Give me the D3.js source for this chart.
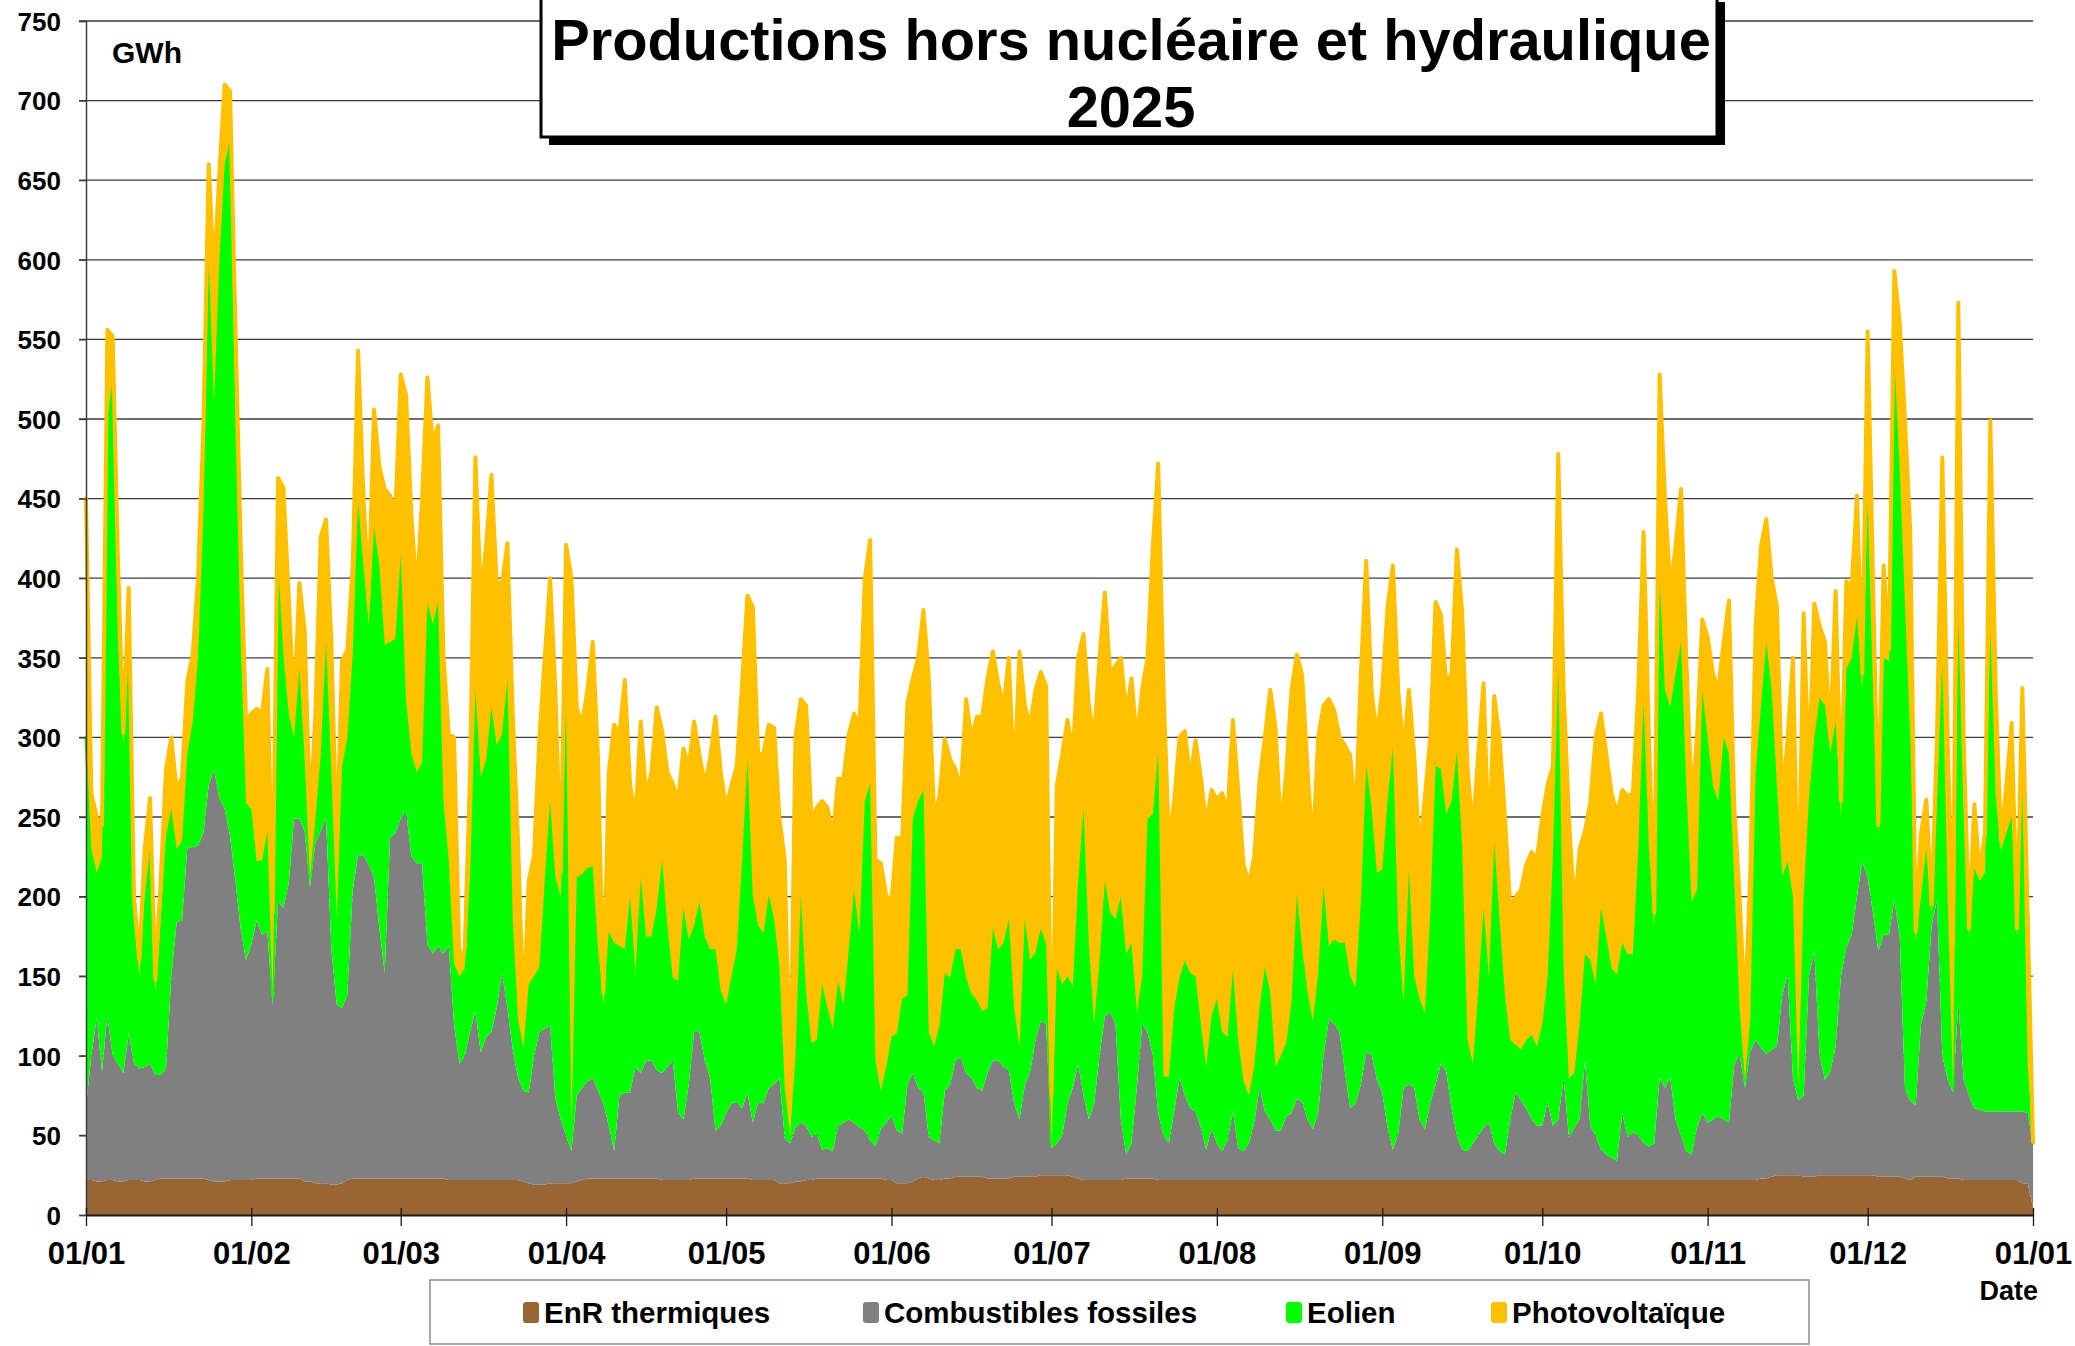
<!DOCTYPE html>
<html><head><meta charset="utf-8">
<script src="https://cdn.jsdelivr.net/npm/d3@7"></script>
<style>
body{margin:0;background:#fff}
svg text{font-family:"Liberation Sans",Arial,Helvetica,sans-serif;font-weight:bold;fill:#000}
</style>
</head><body>
<svg id="c" width="2075" height="1346"></svg>
<script>
// ---- tick labels ----
const monthTickDays = [0,31,59,90,120,151,181,212,243,273,304,334,365];
const monthTickLabels = ["01/01","01/02","01/03","01/04","01/05","01/06","01/07","01/08","01/09","01/10","01/11","01/12","01/01"];
const yTickValues = [0,50,100,150,200,250,300,350,400,450,500,550,600,650,700,750];
const seriesKeys = ["enr","fossiles","eolien","pv"];
const seriesNames = ["EnR thermiques","Combustibles fossiles","Eolien","Photovoltaïque"];
const seriesColors = ["#996633","#808080","#00ff00","#ffc000"];

// ---- daily values (GWh), 1 Jan 2025 .. 1 Jan 2026 ----
const enr = [
22,22,21,21,22,22,21,21,22,22,22,21,21,22,23,23,23,23,23,23,23,23,23,22,21,21,21,22,22,22,22,
22,23,23,23,23,23,23,23,23,23,21,21,20,20,20,19,19,20,22,23,23,23,23,23,23,23,23,23,
23,23,23,23,23,23,23,23,23,22,22,22,22,22,22,22,22,22,22,22,22,22,22,21,20,19,19,19,20,20,20,
20,20,21,22,23,23,23,23,23,23,23,23,23,23,23,23,23,23,22,22,22,22,22,22,23,23,23,23,23,23,
23,23,23,23,23,22,22,22,22,22,20,20,20,21,21,22,22,23,23,23,23,23,23,23,23,23,23,23,23,23,22,
22,20,20,20,21,23,24,23,22,22,23,23,24,24,24,24,24,24,23,23,23,23,23,24,24,24,24,24,25,25,
25,25,25,25,24,23,22,22,22,22,22,22,22,22,23,23,23,23,23,23,22,22,22,22,22,22,22,22,22,22,22,
22,22,22,22,22,22,22,22,22,22,22,22,22,22,22,22,22,22,22,22,22,22,22,22,22,22,22,22,22,22,22,
22,22,22,22,22,22,22,22,22,22,22,22,22,22,22,22,22,22,22,22,22,22,22,22,22,22,22,22,22,22,
22,22,22,22,22,22,22,22,22,22,22,22,22,22,22,22,22,22,22,22,22,22,22,22,22,22,22,22,22,22,22,
22,22,22,22,22,22,22,22,22,22,23,23,24,25,25,25,25,25,24,24,24,25,25,25,25,25,25,25,25,25,
25,25,24,24,24,24,24,23,22,24,24,24,24,24,24,23,23,23,22,22,22,22,22,22,22,22,22,22,22,20,20,
5];

const fossiles = [
46,78,103,69,103,78,74,68,92,73,70,72,74,66,65,69,127,161,162,208,208,209,217,248,259,241,234,216,188,158,138,
148,162,153,155,109,174,170,185,226,226,220,185,214,221,229,148,113,110,116,181,203,203,197,189,157,129,214,217,
226,231,202,198,198,147,141,146,141,147,98,73,78,93,106,80,90,93,108,130,108,82,64,57,57,81,96,98,99,53,40,
30,20,54,58,61,63,55,47,33,17,52,54,54,70,66,74,74,68,67,71,75,42,38,60,92,92,74,63,30,33,
41,47,48,44,54,36,49,48,58,60,66,28,25,34,37,34,27,28,18,19,17,33,35,37,35,32,30,24,20,31,36,
40,33,31,62,68,57,53,26,25,23,55,59,73,75,65,62,56,54,66,74,74,70,68,46,36,58,66,86,97,95,
17,20,25,45,56,72,53,38,48,78,103,105,98,38,15,22,57,97,92,77,42,28,23,43,64,53,45,43,33,19,32,
23,18,25,43,20,18,23,36,58,43,38,31,31,40,42,51,49,38,32,42,78,101,98,93,68,45,48,60,80,79,63,
55,33,19,29,58,60,58,38,32,48,60,73,68,45,28,19,18,23,28,33,36,23,18,16,38,55,50,45,38,34,
34,49,34,38,64,27,33,38,75,34,28,19,16,14,12,42,27,30,28,23,21,23,64,58,64,38,28,18,16,33,42,
36,38,40,38,36,73,79,58,81,88,82,78,80,81,113,126,61,47,51,126,142,75,60,65,81,125,143,151,175,197,
187,165,142,152,152,174,152,56,50,45,96,110,158,174,76,62,54,111,63,53,45,44,43,43,43,43,43,43,43,45,44,
40];

const eolien = [
232,130,91,135,375,425,265,206,236,90,58,107,135,52,97,146,105,46,50,59,79,118,200,330,230,338,405,437,290,180,99,
85,37,47,63,5,213,159,107,51,94,45,6,15,48,111,111,54,152,162,148,222,182,150,220,228,206,123,122,
166,69,65,57,63,215,207,216,96,54,38,55,55,97,202,173,174,204,165,150,207,82,37,27,68,50,41,93,141,139,140,
270,15,137,134,134,133,89,62,122,131,94,90,123,59,123,78,78,102,134,89,52,83,133,91,67,82,78,81,114,85,
68,80,96,156,209,143,111,107,121,104,70,32,5,45,143,83,59,59,104,88,77,91,74,107,146,121,207,224,54,24,35,
50,61,85,56,160,180,190,66,59,74,74,67,70,68,60,53,55,50,41,83,70,78,95,60,46,104,70,55,58,50,
3,110,95,80,64,115,181,110,50,60,85,63,66,140,126,126,47,30,134,152,226,37,42,65,63,85,85,85,65,52,71,
91,75,65,89,68,44,30,35,50,91,80,40,47,46,70,129,96,80,68,88,106,46,53,56,81,83,73,115,180,155,130,
140,205,253,129,53,135,70,76,73,119,200,185,162,193,241,189,70,50,91,138,91,189,146,100,50,30,32,43,53,50,
64,78,170,285,69,37,34,60,67,104,95,152,137,119,117,107,115,112,180,278,187,135,314,250,233,280,310,230,159,149,266,
242,210,198,240,232,115,29,5,20,168,215,259,226,164,75,71,114,8,125,112,134,225,235,200,204,100,175,174,176,108,
236,140,73,174,172,339,294,305,228,103,80,96,8,62,248,115,3,241,165,99,151,144,150,303,198,164,175,185,109,202,30,
0];

const pv = [
150,35,35,20,56,27,50,8,44,15,10,30,32,8,25,42,45,36,40,45,42,50,55,60,80,55,50,31,60,60,51,
60,96,92,102,53,53,105,74,18,54,81,37,66,137,77,82,44,66,55,56,95,44,20,74,62,98,92,79,
113,192,150,111,166,141,114,111,92,79,142,10,12,66,146,114,134,146,102,95,85,129,111,22,65,76,144,140,140,118,15,
101,345,107,94,112,141,119,8,100,137,133,169,70,97,98,88,103,126,81,96,122,113,100,109,128,92,96,120,146,137,
124,120,115,111,103,181,107,113,107,120,93,143,25,200,123,181,141,146,115,126,120,127,142,135,111,130,140,153,126,143,108,
85,123,100,184,88,90,113,222,144,144,147,137,113,100,175,160,178,185,207,174,167,148,164,141,248,134,148,165,161,162,
30,115,144,161,146,140,109,150,180,190,181,150,159,150,151,166,171,180,101,168,182,243,148,130,151,144,122,148,155,152,142,
125,150,140,157,157,136,133,132,143,144,190,213,141,170,196,150,172,140,108,148,114,155,144,129,124,139,106,143,129,74,85,
113,122,114,150,158,113,139,90,136,111,103,97,82,80,127,148,170,146,149,141,81,92,114,112,83,93,100,110,115,118,
130,121,56,133,175,164,102,110,77,99,155,122,115,110,101,96,99,101,100,106,70,10,128,120,74,80,96,80,63,96,44,
63,70,70,60,96,46,70,42,92,92,100,77,70,112,47,78,150,104,178,13,84,45,40,10,82,10,55,44,76,10,
107,70,6,58,7,56,91,116,128,6,40,31,5,40,128,100,90,198,50,6,40,5,25,131,67,6,30,59,6,64,95,
1];

// ---- build ----
const svg = d3.select("#c");
const x0 = 86, x1 = 2033, yTop = 21, yBot = 1215;
const x = d3.scaleLinear().domain([0, 365]).range([x0, x1]);
const y = d3.scaleLinear().domain([0, 750]).range([yBot, yTop]);

const rows = enr.map((v, i) => ({day: i, enr: v, fossiles: fossiles[i], eolien: eolien[i], pv: pv[i]}));
const stacked = d3.stack().keys(seriesKeys)(rows);

// gridlines
svg.append("g").selectAll("line").data(yTickValues.filter(v => v > 0)).join("line")
  .attr("x1", x0 - 7).attr("x2", x1)
  .attr("y1", d => y(d)).attr("y2", d => y(d))
  .attr("stroke", "#3c3c3c").attr("stroke-width", 1.3);

// stacked areas
const area = d3.area().x(d => x(d.data.day)).y0(d => y(d[0])).y1(d => y(d[1])).curve(d3.curveLinear);
const topLine = d3.line().x(d => x(d.data.day)).y(d => y(d[1])).curve(d3.curveLinear);
const strokeW = [0, 0, 3, 4];
stacked.forEach((s, k) => {
  svg.append("path").datum(s).attr("d", area).attr("fill", seriesColors[k]).attr("stroke", "none");
  if (strokeW[k] > 0) {
    svg.append("path").datum(s).attr("d", topLine).attr("fill", "none")
      .attr("stroke", seriesColors[k]).attr("stroke-width", strokeW[k])
      .attr("stroke-linejoin", "round").attr("stroke-linecap", "round");
  }
});

// y axis
const yAxis = d3.axisLeft(y).tickValues(yTickValues).tickSize(7);
const gya = svg.append("g").attr("transform", `translate(${x0},0)`).call(yAxis);
gya.select(".domain").attr("stroke", "#3c3c3c").attr("stroke-width", 1.5);
gya.selectAll(".tick line").attr("stroke", "#3c3c3c").attr("stroke-width", 1.3);
gya.selectAll(".tick text").attr("font-size", 26).attr("font-family", "'Liberation Sans',Arial,sans-serif")
  .attr("font-weight", "bold").attr("fill", "#000").attr("x", -25).attr("dy", "0.36em");

// x axis
const xAxis = d3.axisBottom(x).tickValues(monthTickDays).tickFormat((d, i) => monthTickLabels[i]).tickSize(0);
const gxa = svg.append("g").attr("transform", `translate(0,${yBot})`).call(xAxis);
gxa.select(".domain").attr("stroke", "#1a1a1a").attr("stroke-width", 2.2);
gxa.selectAll(".tick line").remove();
gxa.selectAll(".tick").append("line").attr("y1", -7).attr("y2", 11).attr("stroke", "#1a1a1a").attr("stroke-width", 1.3);
gxa.selectAll(".tick text").attr("font-size", 31).attr("font-family", "'Liberation Sans',Arial,sans-serif")
  .attr("font-weight", "bold").attr("fill", "#000").attr("y", 0).attr("dy", 49);

// unit + axis title
svg.append("text").attr("x", 112).attr("y", 63).attr("font-size", 30).text("GWh");
svg.append("text").attr("x", 2038).attr("y", 1300).attr("font-size", 27).attr("text-anchor", "end").text("Date");

// title box
const tb = {x: 541, y: -6, w: 1176, h: 143};
svg.append("rect").attr("x", tb.x + 8).attr("y", tb.y + 8).attr("width", tb.w).attr("height", tb.h).attr("fill", "#000");
svg.append("rect").attr("x", tb.x).attr("y", tb.y).attr("width", tb.w).attr("height", tb.h)
  .attr("fill", "#fff").attr("stroke", "#000").attr("stroke-width", 3);
const titleLines = ["Productions hors nucléaire et hydraulique", "2025"];
const t1 = svg.append("text").attr("x", 1131).attr("y", 60).attr("text-anchor", "middle").attr("font-size", 58).text(titleLines[0]);
const len = t1.node().getComputedTextLength();
const fs = 58 * 1160 / len;
t1.attr("font-size", fs);
svg.append("text").attr("x", 1131).attr("y", 127).attr("text-anchor", "middle").attr("font-size", fs).text(titleLines[1]);

// legend
svg.append("rect").attr("x", 430).attr("y", 1280).attr("width", 1379).attr("height", 64)
  .attr("fill", "#fff").attr("stroke", "#8c8c8c").attr("stroke-width", 1.5);
const legX = [523, 863, 1286, 1491];
seriesNames.forEach((n, k) => {
  svg.append("rect").attr("x", legX[k]).attr("y", 1302).attr("width", 16).attr("height", 21).attr("rx", 3)
    .attr("fill", seriesColors[k]);
  svg.append("text").attr("x", legX[k] + 21).attr("y", 1323).attr("font-size", 29.5).text(n);
});
</script>
</body></html>
